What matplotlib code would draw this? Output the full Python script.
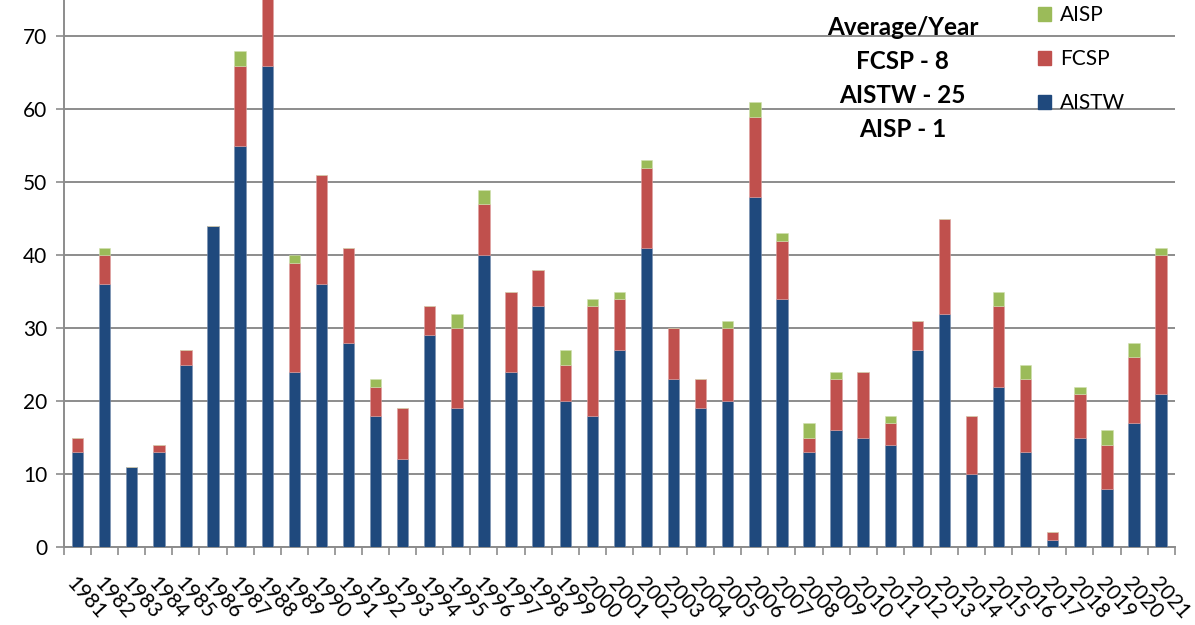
import numpy as np
import matplotlib
matplotlib.use("Agg")
import matplotlib.pyplot as plt
from matplotlib.patches import Patch

plt.rcParams["font.family"] = ["Lato", "DejaVu Sans"]

# data
years = [str(y) for y in range(1981, 2022)]
aistw = [13, 36, 11, 13, 25, 44, 55, 66, 24, 36, 28, 18, 12, 29, 19, 40, 24, 33, 20, 18, 27,
         41, 23, 19, 20, 48, 34, 13, 16, 15, 14, 27, 32, 10, 22, 13, 1, 15, 8, 17, 21]
fcsp = [2, 4, 0, 1, 2, 0, 11, 10, 15, 15, 13, 4, 7, 4, 11, 7, 11, 5, 5, 15, 7,
        11, 7, 4, 10, 11, 8, 2, 7, 9, 3, 4, 13, 8, 11, 10, 1, 6, 6, 9, 19]
aisp = [0, 1, 0, 0, 0, 0, 2, 0, 1, 0, 0, 1, 0, 0, 2, 2, 0, 0, 2, 1, 1,
        1, 0, 0, 1, 2, 1, 2, 1, 0, 1, 0, 0, 0, 2, 2, 0, 1, 2, 2, 1]
averages = ["Average/Year", "FCSP - 8", "AISTW - 25", "AISP - 1"]

blue = "#1F497D"
red = "#C0504D"
green = "#9BBB59"
grid = "#8C8C8C"

fig = plt.figure(figsize=(11.95, 6.25), dpi=100)
ax = fig.add_axes([0.0536, 0.1248, 0.9294, 0.8752])

x = np.arange(len(years))
w = 0.42
a1 = np.array(aistw)
a2 = np.array(fcsp)
a3 = np.array(aisp)
ax.bar(x, a1, w, color=blue, edgecolor="#7a90b0", linewidth=0.4, zorder=3)
ax.bar(x, a2, w, bottom=a1, color=red, edgecolor="#e0a0a0", linewidth=0.4, zorder=3)
ax.bar(x, a3, w, bottom=a1 + a2, color=green, edgecolor="#d0e0b0", linewidth=0.4, zorder=3)

ax.set_xlim(-0.5, len(years) - 0.5)
ax.set_ylim(0, 75)
ax.set_yticks(range(0, 80, 10))
ax.yaxis.grid(True, color=grid, linewidth=1.4, zorder=0)
ax.tick_params(axis="y", labelsize=15, length=6, width=1.2, color=grid, pad=6)

# ticks between categories, labels at centres
ax.set_xticks(x)
ax.set_xticks(np.arange(-0.5, len(years)), minor=True)
ax.set_xticklabels(years, rotation=-48, ha="left", va="top", rotation_mode="anchor", fontsize=15)
ax.tick_params(axis="x", which="major", length=0, pad=19)
ax.tick_params(axis="x", which="minor", length=6, width=1.2, color=grid)

for s in ["top", "right"]:
    ax.spines[s].set_visible(False)
ax.spines["left"].set_color(grid)
ax.spines["left"].set_linewidth(1.4)
ax.spines["bottom"].set_color(grid)
ax.spines["bottom"].set_linewidth(1.4)

ty = [71.2, 66.5, 61.9, 57.2]
for t, yy in zip(averages, ty):
    ax.text(30.45, yy, t, ha="center", va="center", fontsize=17.5, fontweight="bold", zorder=5)

handles = [Patch(color=green, label="AISP"), Patch(color=red, label="FCSP"), Patch(color=blue, label="AISTW")]
ax.legend(handles=handles, loc="upper left", bbox_to_anchor=(0.86, 1.025), frameon=False,
          fontsize=15, handlelength=0.65, handleheight=0.65, handletextpad=0.4, labelspacing=1.15)

fig.savefig("out.png", dpi=100)
